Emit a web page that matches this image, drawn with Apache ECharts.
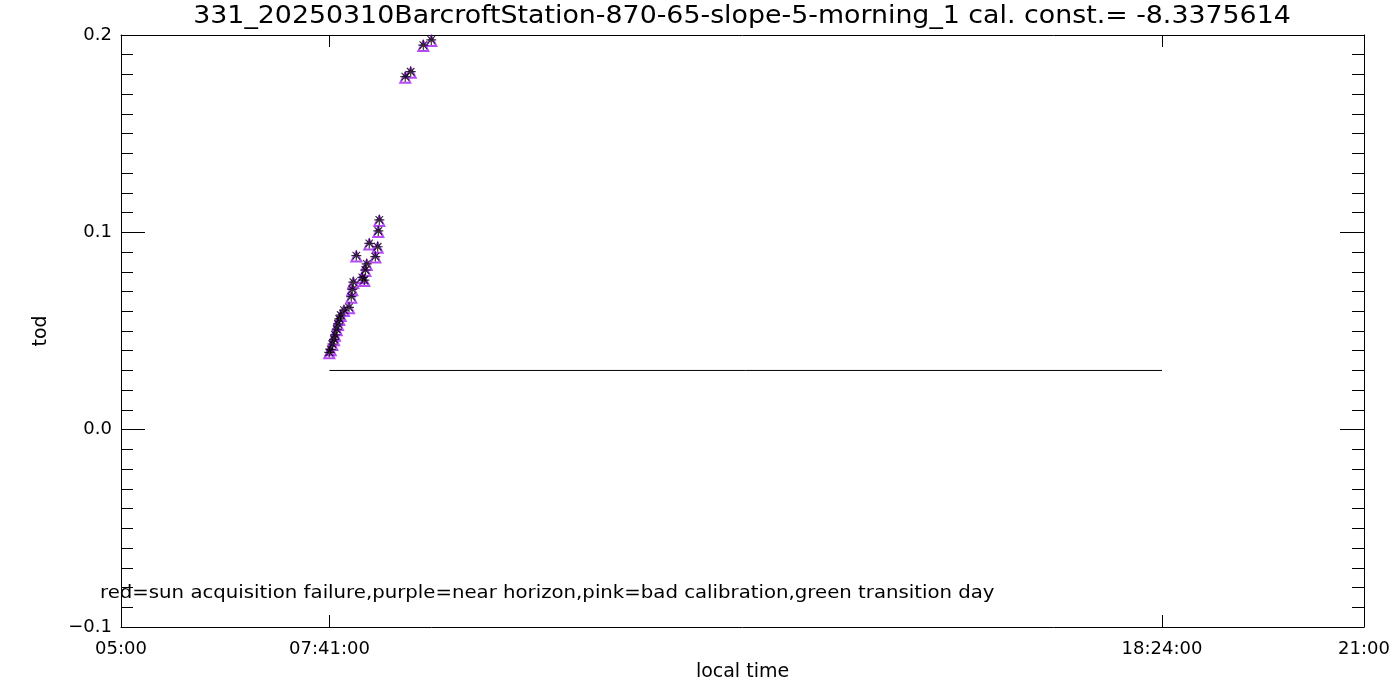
<!DOCTYPE html>
<html>
<head>
<meta charset="utf-8">
<script src="https://cdn.jsdelivr.net/npm/echarts@6/dist/echarts.min.js"></script>
<style>html,body{margin:0;padding:0;background:#fff}#c{width:1400px;height:700px}</style>
</head>
<body>
<div id="c"></div>
<script>
// ---- data ----
const titleText = '331_20250310BarcroftStation-870-65-slope-5-morning_1 cal. const.= -8.3375614';
const noteText = 'red=sun acquisition failure,purple=near horizon,pink=bad calibration,green transition day';
const xTickValues = [5, 7.683333, 18.4, 21];
const xTickLabels = ['05:00', '07:41:00', '18:24:00', '21:00'];
const yTickValues = [-0.1, 0.0, 0.1, 0.2];
const yTickLabels = ['\u22120.1', '0.0', '0.1', '0.2'];
const timeHours = [7.681, 7.699, 7.720, 7.742, 7.755, 7.777, 7.793, 7.810, 7.828, 7.870,
  7.935, 7.964, 7.977, 7.990, 8.029, 8.106, 8.132, 8.145, 8.163, 8.196,
  8.274, 8.304, 8.312, 8.325, 8.659, 8.729, 8.891, 8.994];
const todValues = [0.0392, 0.0407, 0.0434, 0.0458, 0.0481, 0.0509, 0.0536, 0.0561, 0.0581, 0.0606,
  0.0620, 0.0674, 0.0711, 0.0748, 0.0882, 0.0772, 0.0758, 0.0809, 0.0840, 0.0944,
  0.0877, 0.0927, 0.1007, 0.1063, 0.1789, 0.1814, 0.1949, 0.1975];
const refLineX = [7.683333, 18.4];
const refLineY = [0.03, 0.03];

// ---- build ----
const pts = timeHours.map((t, i) => [t, todValues[i]]);
const refLine = refLineX.map((t, i) => [t, refLineY[i]]);
const FONT = 'DejaVu Sans';
const purple = '#a020f0';
function nearestLabel(vals, labels, v) {
  let best = 0;
  for (let i = 1; i < vals.length; i++) if (Math.abs(vals[i] - v) < Math.abs(vals[best] - v)) best = i;
  return labels[best];
}
const inner = [xTickValues[1], xTickValues[2]];
const chart = echarts.init(document.getElementById('c'), null, {renderer: 'canvas'});
chart.setOption({
  backgroundColor: '#fff',
  animation: false,
  grid: {left: 121, right: 36, top: 35, bottom: 73},
  xAxis: [{
    type: 'value', min: 5, max: 21, position: 'bottom',
    name: 'local time', nameLocation: 'middle', nameGap: 35,
    nameTextStyle: {fontFamily: FONT, fontSize: 19, color: '#000'},
    axisLine: {show: true, onZero: false, lineStyle: {color: '#000', width: 1}},
    axisTick: {show: true, inside: true, length: 12, customValues: inner, lineStyle: {color: '#000'}},
    axisLabel: {show: true, customValues: xTickValues, formatter: v => nearestLabel(xTickValues, xTickLabels, v), margin: 13, fontFamily: FONT, fontSize: 18, color: '#000'},
    splitLine: {show: false}
  }, {
    type: 'value', min: 5, max: 21, position: 'top',
    axisLine: {show: true, onZero: false, lineStyle: {color: '#000', width: 1}},
    axisTick: {show: true, inside: true, length: 12, customValues: inner, lineStyle: {color: '#000'}},
    axisLabel: {show: false},
    splitLine: {show: false}
  }],
  yAxis: [{
    type: 'value', min: -0.1, max: 0.2, interval: 0.1, position: 'left',
    name: 'tod', nameLocation: 'middle', nameGap: 70, nameRotate: 90,
    nameTextStyle: {fontFamily: FONT, fontSize: 19, color: '#000'},
    axisLine: {show: true, onZero: false, lineStyle: {color: '#000', width: 1}},
    axisTick: {show: true, inside: true, length: 24, lineStyle: {color: '#000'}},
    minorTick: {show: true, splitNumber: 10, length: 12, lineStyle: {color: '#000'}},
    axisLabel: {formatter: v => nearestLabel(yTickValues, yTickLabels, v), margin: 9, fontFamily: FONT, fontSize: 18, color: '#000'},
    splitLine: {show: false}, minorSplitLine: {show: false}
  }, {
    type: 'value', min: -0.1, max: 0.2, interval: 0.1, position: 'right',
    axisLine: {show: true, onZero: false, lineStyle: {color: '#000', width: 1}},
    axisTick: {show: true, inside: true, length: 24, lineStyle: {color: '#000'}},
    minorTick: {show: true, splitNumber: 10, length: 12, lineStyle: {color: '#000'}},
    axisLabel: {show: false},
    splitLine: {show: false}, minorSplitLine: {show: false}
  }],
  graphic: [{
    type: 'text', x: 742, y: 17, scaleX: 1.117,
    style: {text: titleText, fontFamily: FONT, fontSize: 24, fill: '#000', align: 'center', verticalAlign: 'middle'}
  }, {
    type: 'text', x: 100, y: 594, scaleX: 1.16,
    style: {text: noteText, fontFamily: FONT, fontSize: 17, fill: '#000', align: 'left', verticalAlign: 'middle'}
  }],
  series: [{
    type: 'line', data: refLine, symbol: 'none', silent: true,
    lineStyle: {color: '#000', width: 1}, z: 2
  }, {
    type: 'scatter', data: pts, symbol: 'triangle', symbolSize: 10, symbolOffset: [0, 1],
    itemStyle: {color: 'rgba(0,0,0,0)', borderColor: purple, borderWidth: 2}, z: 3
  }, {
    type: 'scatter', data: pts, symbol: 'path://M0,-4L0,4M-4,0L4,0M-3,-3L3,3M-3,3L3,-3', symbolSize: 10,
    itemStyle: {color: 'rgba(0,0,0,0)', borderColor: '#000', borderWidth: 1.2}, z: 4
  }]
});
</script>
</body>
</html>
